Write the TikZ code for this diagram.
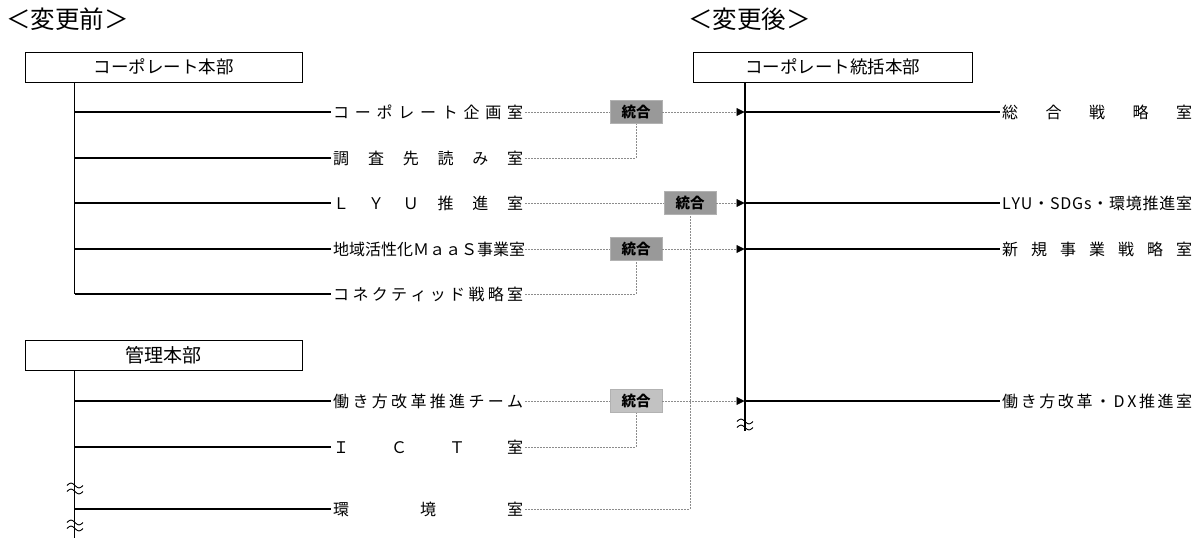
\documentclass[tikz,border=0pt]{standalone}
\usepackage{fontspec}
\setmainfont{Noto Sans CJK JP}
\usetikzlibrary{positioning,arrows.meta}
\colorlet{linkcolor}{black!45}
\colorlet{mergecolor}{black!40}
\colorlet{mergelightcolor}{black!24}
\newcommand{\roomsize}{\fontsize{16}{18}\selectfont}
\newcommand{\spreadname}[1]{\hbox to 190pt{\foreach \ch [count=\chidx] in {#1}{\ifnum\chidx>1 \hfill\fi\ch}}}
\tikzset{
        hqbox/.style={draw, line width=1pt, minimum width=277pt, minimum height=30pt, inner sep=0pt, font=\fontsize{17.5}{20}\selectfont},
        roomname/.style={anchor=west, inner xsep=2pt, inner ysep=0pt, font=\roomsize},
        mergebox/.style={draw=black!30, fill=mergecolor, minimum width=52pt, minimum height=23pt, inner sep=0pt, font=\fontsize{14.5}{16}\selectfont\bfseries},
        branch/.style={line width=1.3pt},
        link/.style={draw=linkcolor, line width=0.8pt, dash pattern=on 2pt off 1pt},
        linkarrow/.style={link, -{Triangle[length=8pt,width=8pt,color=black]}},
        breakmark/.pic={
                \draw[line width=0.9pt] (-8,-2.5) sin (-4,-5) cos (0,-2.5) sin (4,0) cos (8,-2.5);
                \draw[line width=0.9pt] (-8,3.5) sin (-4,1) cos (0,3.5) sin (4,6) cos (8,3.5);
        }
}

\begin{document}
\begin{tikzpicture}[x=1pt,y=-1pt]
        \useasboundingbox (0,0) rectangle (1200,542);

        \node (beforeTitle) [anchor=west, inner sep=0pt, font=\fontsize{24.5}{27}\selectfont] at (6,19) {＜変更前＞};
        \node (afterTitle) [anchor=west, inner sep=0pt, font=\fontsize{24.5}{27}\selectfont] at (688,19) {＜変更後＞};

        % before
        \node (corpHQ) [hqbox] at (163.5,67) {コーポレート本部};
        \node (adminHQ) [hqbox, font=\fontsize{19}{22}\selectfont] at (163.5,355) {管理本部};
        \coordinate (corpTrunk) at ([xshift=50pt]corpHQ.south west);
        \coordinate (adminTrunk) at ([xshift=50pt]adminHQ.south west);

        \node (planRoom) [roomname] at (331,112) {\spreadname{コ,ー,ポ,レ,ー,ト,企,画,室}};
        \node (researchRoom) [roomname] at (331,158) {\spreadname{調,査,先,読,み,室}};
        \node (lyuRoom) [roomname] at (331,203) {\spreadname{Ｌ,Ｙ,Ｕ,推,進,室}};
        \node (maasRoom) [roomname] at (331,249) {\spreadname{地,域,活,性,化,Ｍ,ａ,ａ,Ｓ,事,業,室}};
        \node (connRoom) [roomname] at (331,294) {\spreadname{コ,ネ,ク,テ,ィ,ッ,ド,戦,略,室}};
        \node (workRoom) [roomname] at (331,401) {\spreadname{働,き,方,改,革,推,進,チ,ー,ム}};
        \node (ictRoom) [roomname] at (331,447) {\spreadname{Ｉ,Ｃ,Ｔ,室}};
        \node (envRoom) [roomname] at (331,509) {\spreadname{環,境,室}};

        \draw[branch] (corpTrunk) -- (corpTrunk |- connRoom.west);
        \foreach \r in {planRoom,researchRoom,lyuRoom,maasRoom,connRoom}
                \draw[branch] (corpTrunk |- \r.west) -- (\r.west);
        \draw[branch] (adminTrunk) -- ++(0,167);
        \foreach \r in {workRoom,ictRoom,envRoom}
                \draw[branch] (adminTrunk |- \r.west) -- (\r.west);
        \pic at (75,488) {breakmark};
        \pic at (75,525) {breakmark};

        % after
        \node (newHQ) [hqbox, minimum width=279pt] at (832.5,67) {コーポレート統括本部};
        \coordinate (newTrunk) at ([xshift=52pt]newHQ.south west);

        \node (stratRoom) [roomname] at (1000,112) {\spreadname{総,合,戦,略,室}};
        \node (sdgRoom) [roomname] at (1000,203) {\spreadname{L,Y,U,・,S,D,G,s,・,環,境,推,進,室}};
        \node (bizRoom) [roomname] at (1000,249) {\spreadname{新,規,事,業,戦,略,室}};
        \node (dxRoom) [roomname] at (1000,401) {\spreadname{働,き,方,改,革,・,D,X,推,進,室}};

        \draw[line width=2pt] (newTrunk) -- ++(0,348);
        \foreach \r in {stratRoom,sdgRoom,bizRoom,dxRoom}
                \draw[branch] (newTrunk |- \r.west) -- (\r.west);
        \pic at (745,424) {breakmark};

        % merges
        \node (mergeA) [mergebox] at (636,112) {統合};
        \node (mergeB) [mergebox] at (690,203) {統合};
        \node (mergeC) [mergebox] at (636,249) {統合};
        \node (mergeD) [mergebox, fill=mergelightcolor] at (636,401) {統合};

        \draw[link] (planRoom.east) -- (mergeA.west);
        \draw[link] (researchRoom.east) -| (mergeA.south);
        \draw[link] (lyuRoom.east) -- (mergeB.west);
        \draw[link] (envRoom.east) -| (mergeB.south);
        \draw[link] (maasRoom.east) -- (mergeC.west);
        \draw[link] (connRoom.east) -| (mergeC.south);
        \draw[link] (workRoom.east) -- (mergeD.west);
        \draw[link] (ictRoom.east) -| (mergeD.south);
        \foreach \m in {mergeA,mergeB,mergeC,mergeD}
                \draw[linkarrow] (\m.east) -- (newTrunk |- \m.east);
\end{tikzpicture}
\end{document}
